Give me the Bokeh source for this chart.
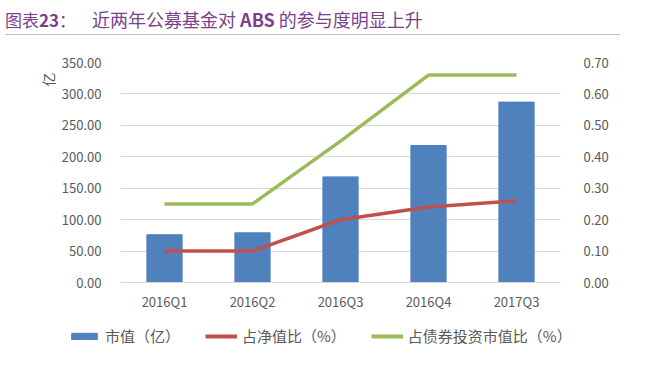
import math
from bokeh.plotting import figure
from bokeh.models import (Range1d, FactorRange, LinearAxis, Legend, LegendItem, Div, Title,
                          ColumnDataSource, NumeralTickFormatter, FixedTicker)
from bokeh.layouts import column, row
from bokeh.embed import file_html
from bokeh.resources import INLINE

categories = ["2016Q1", "2016Q2", "2016Q3", "2016Q4", "2017Q3"]
market_value = [76, 79, 168, 218, 287]          # 市值（亿）
net_value_ratio = [0.10, 0.10, 0.20, 0.24, 0.26]  # 占净值比（%）
bond_ratio = [0.25, 0.25, 0.45, 0.66, 0.66]       # 占债券投资市值比（%）
left_ticks = [0, 50, 100, 150, 200, 250, 300, 350]
right_ticks = [0, 0.1, 0.2, 0.3, 0.4, 0.5, 0.6, 0.7]

FONT = "Noto Sans CJK SC"
GREY = "#595959"
BLUE, RED, GREEN = "#4f81bd", "#c0504d", "#9bbb59"

src = ColumnDataSource(dict(cat=categories, mv=market_value,
                            nv=net_value_ratio, br=bond_ratio))

p = figure(x_range=categories, y_range=Range1d(0, 350), width=630, height=279,
           output_backend="svg", toolbar_location=None,
           min_border_left=120, min_border_right=70,
           min_border_top=23, min_border_bottom=36)
p.extra_y_ranges = {"pct": Range1d(0, 0.7)}

bars = p.vbar(x="cat", top="mv", width=0.4, source=src, color=BLUE)
l1 = p.line(x="cat", y="nv", source=src, y_range_name="pct",
            line_color=RED, line_width=3.5)
l2 = p.line(x="cat", y="br", source=src, y_range_name="pct",
            line_color=GREEN, line_width=3.5)

p.outline_line_color = None
p.xgrid.grid_line_color = None
p.ygrid.grid_line_color = "#d9d9d9"
p.ygrid.ticker = FixedTicker(ticks=left_ticks)

# left axis
ya = p.yaxis[0]
ya.ticker = FixedTicker(ticks=left_ticks)
ya.formatter = NumeralTickFormatter(format="0.00")
ya.axis_line_color = None
ya.major_tick_line_color = None
ya.minor_tick_line_color = None
ya.major_label_standoff = 13
ya.major_label_text_font = FONT
ya.major_label_text_font_size = "13px"
ya.major_label_text_color = GREY

# right axis
ra = LinearAxis(y_range_name="pct", ticker=FixedTicker(ticks=right_ticks),
                formatter=NumeralTickFormatter(format="0.00"))
ra.axis_line_color = None
ra.major_tick_line_color = None
ra.minor_tick_line_color = None
ra.major_label_standoff = 17
ra.major_label_text_font = FONT
ra.major_label_text_font_size = "13px"
ra.major_label_text_color = GREY
p.add_layout(ra, "right")

# x axis
xa = p.xaxis[0]
xa.axis_line_color = "#d9d9d9"
xa.major_tick_line_color = None
xa.minor_tick_line_color = None
xa.major_label_standoff = 3
xa.major_label_text_font = FONT
xa.major_label_text_font_size = "13px"
xa.major_label_text_color = GREY

# unit label
unit = Title(text="亿", align="right", text_font=FONT, text_font_size="14px",
             text_color=GREY, text_font_style="normal", offset=10, standoff=2)
p.add_layout(unit, "left")

# legend in its own strip (glyphs kept out of view, only legend shows)
lg = figure(x_range=FactorRange(factors=categories), y_range=Range1d(1000, 1001),
            width=630, height=44, output_backend="svg", toolbar_location=None,
            min_border=0, outline_line_color=None)
lg.axis.visible = False
lg.grid.visible = False
lb = lg.vbar(x="cat", top="mv", width=0.4, source=src, color=BLUE)
lr = lg.line(x="cat", y="nv", source=src, line_color=RED, line_width=4)
lgn = lg.line(x="cat", y="br", source=src, line_color=GREEN, line_width=4)
legend = Legend(items=[LegendItem(label="市值（亿）", renderers=[lb]),
                       LegendItem(label="占净值比（%）", renderers=[lr]),
                       LegendItem(label="占债券投资市值比（%）", renderers=[lgn])],
                orientation="horizontal", location=(68, 16),
                glyph_width=32, glyph_height=8, label_standoff=5, spacing=25,
                label_text_font=FONT, label_text_font_size="15px",
                label_text_color=GREY, border_line_color=None,
                background_fill_alpha=0, padding=0, margin=0)
lg.add_layout(legend, "center")

title = Div(text=(
    '<div style="width:615px;border-bottom:1px solid #bfbfbf;padding-top:3px;padding-bottom:3px;'
    'font-family:\'Noto Sans CJK SC\';font-size:18px;color:#7b3f8c;line-height:22px;">'
    '<span style="font-size:17px;">图表<b>23</b>：</span>'
    '<span style="margin-left:16px;">近两年公募基金对 <b>ABS</b> 的参与度明显上升</span>'
    '</div>'), width=630, height=29)

layout = column(title, p, row(lg), spacing=0)

open("out.html", "w").write(file_html(layout, INLINE))
